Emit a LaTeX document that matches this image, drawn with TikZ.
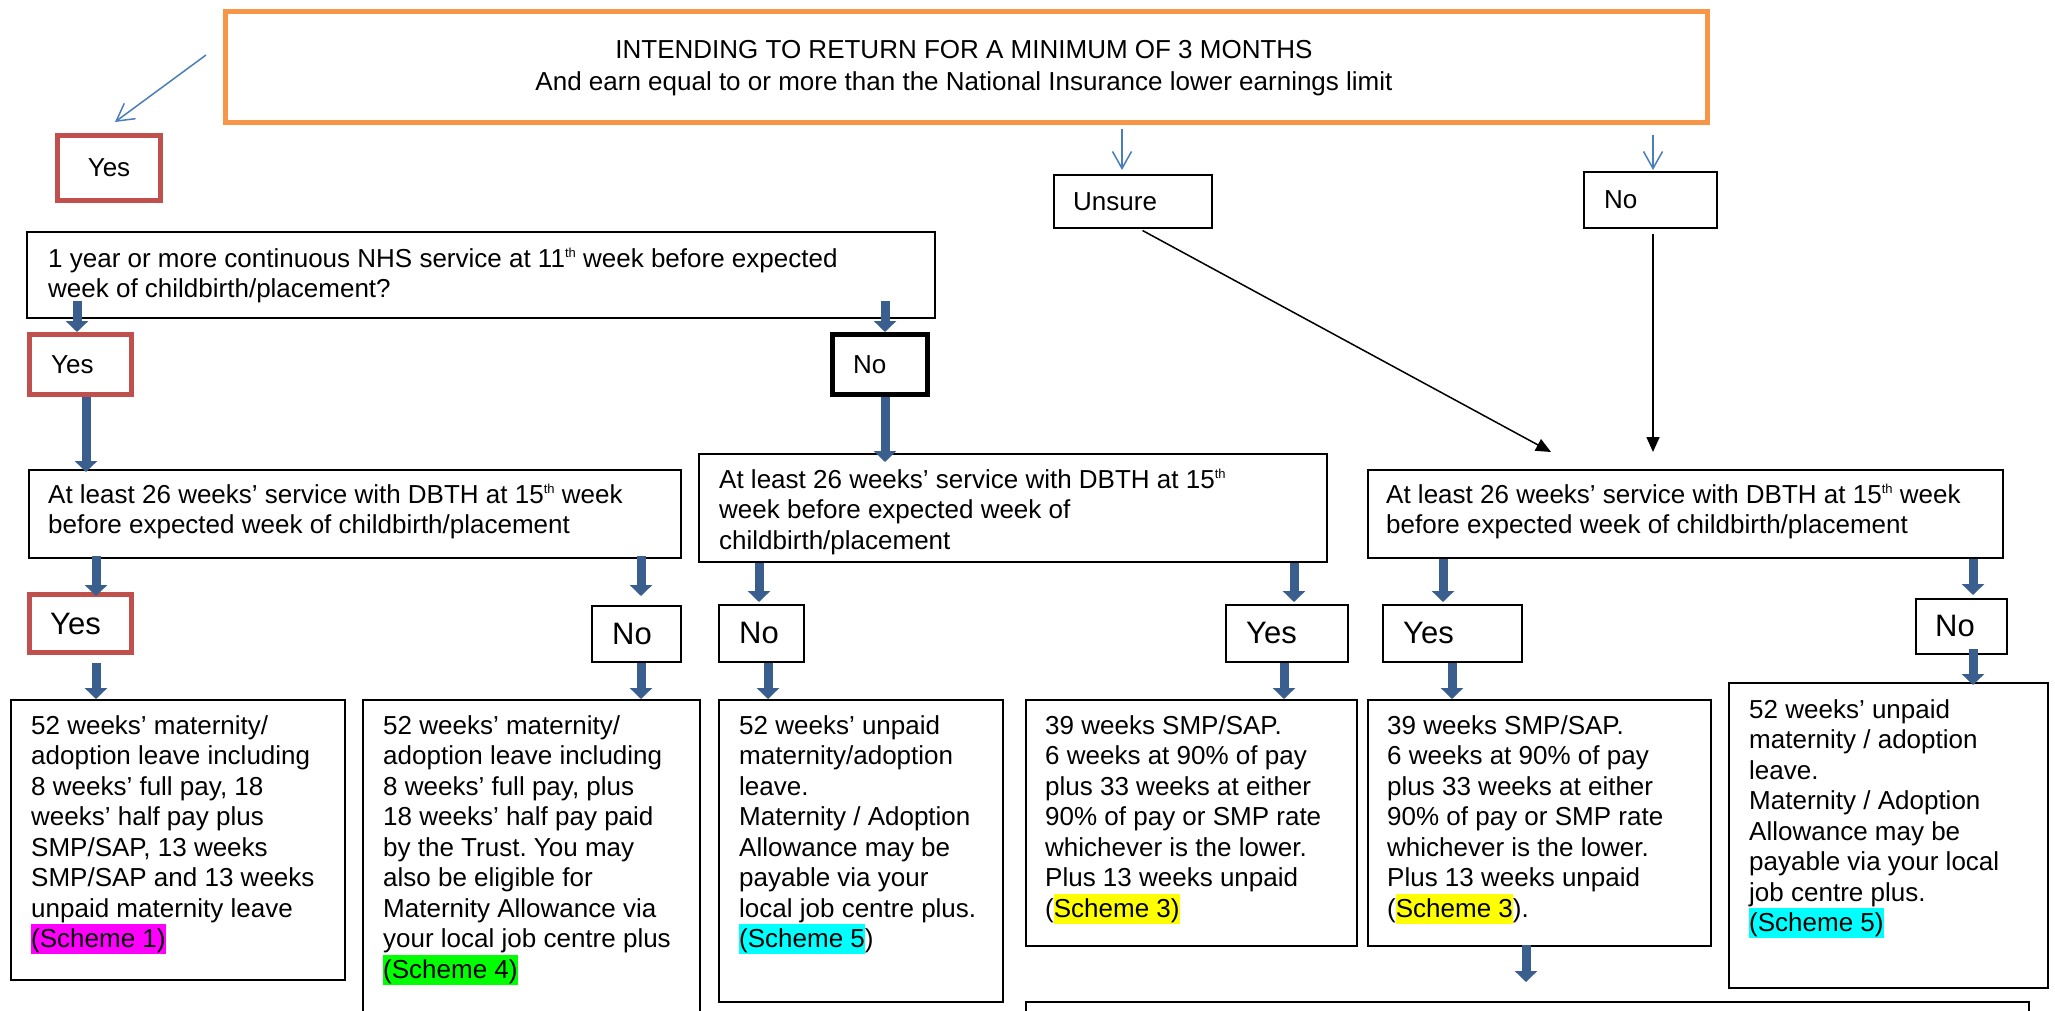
\documentclass[tikz,border=0pt]{standalone}
\usepackage{fontspec}
\setmainfont{Liberation Sans}
\frenchspacing
\usetikzlibrary{arrows.meta,calc}
\definecolor{orng}{HTML}{F79646}
\definecolor{redb}{HTML}{C0504D}
\definecolor{thkblue}{HTML}{3A5F8F}
\definecolor{thinblue}{HTML}{4A7EBB}
\definecolor{hlmag}{HTML}{FF00FF}
\definecolor{hlgreen}{HTML}{00FF00}
\definecolor{hlcyan}{HTML}{00FFFF}
\definecolor{hlyellow}{HTML}{FFFF00}
\newcommand\hlt[2]{{\setlength{\fboxsep}{0pt}\colorbox{#1}{\rule[-6.5pt]{0pt}{30pt}#2}}}
\newcommand\thsup{\raisebox{10pt}{\fontsize{13}{13}\selectfont th}}
\newcommand\tb[1]{\parbox[t]{1000pt}{\raggedright #1}}
\tikzset{
  bx/.style={draw=black, line width=1.6pt, anchor=north west, inner sep=0pt},
  redbx/.style={bx, draw=redb, line width=5pt},
  orngbx/.style={bx, draw=orng, line width=5pt},
  heavybx/.style={bx, line width=5pt},
  txt/.style={inner sep=0pt, anchor=base west, font=\fontsize{26}{30.5}\selectfont},
  lbl/.style={inner sep=0pt, anchor=west, font=\fontsize{26}{30.5}\selectfont},
  biglbl/.style={inner sep=0pt, anchor=west, font=\fontsize{31}{36}\selectfont},
  thk/.style={draw=thkblue, line width=9pt, -{Triangle[length=11pt,width=22pt]}},
  thinarr/.style={draw=thinblue, line width=1.5pt, -{Straight Barb[length=17pt,width=19pt]}},
  blk/.style={draw=black, line width=1.5pt, -{Triangle[length=15pt,width=13pt]}}
}
\begin{document}
\begin{tikzpicture}[x=1pt,y=-1pt]
\useasboundingbox (0,0) rectangle (2055,1010);
\fill[white] (0,0) rectangle (2055,1010);
\clip (0,0) rectangle (2055,1010);

% top box
\node[orngbx, minimum width=1482pt, minimum height=111pt] (top) at (223,9) {};
\node[inner sep=0pt, anchor=base, font=\fontsize{26}{32}\selectfont] (topt) at (964,58)
  {\parbox[t]{1400pt}{\centering INTENDING TO RETURN FOR A MINIMUM OF 3 MONTHS\\And earn equal to or more than the National Insurance lower earnings limit}};

% first answers
\node[redbx, minimum width=103pt, minimum height=65pt] (yes1) at (55,133) {};
\node[lbl, anchor=center] (yes1t) at (yes1.center) {Yes};
\node[bx, minimum width=158pt, minimum height=53pt] (unsure) at (1053,174) {};
\node[lbl] (unsuret) at ($(unsure.west)+(20,0)$) {Unsure};
\node[bx, minimum width=133pt, minimum height=56pt] (no1) at (1583,171) {};
\node[lbl] (no1t) at ($(no1.west)+(21,0)$) {No};

% question 1
\node[bx, minimum width=908pt, minimum height=86pt] (q1) at (26,231) {};
\node[txt] (q1t) at (48,267) {\tb{1 year or more continuous NHS service at 11\thsup{} week before expected\\week of childbirth/placement?}};

\node[redbx, minimum width=102pt, minimum height=60pt] (yes2) at (27,332) {};
\node[lbl] (yes2t) at ($(yes2.west)+(24,0)$) {Yes};
\node[heavybx, minimum width=95pt, minimum height=60pt] (no2) at (830,332) {};
\node[lbl] (no2t) at ($(no2.west)+(23,0)$) {No};

% 26 weeks boxes
\node[bx, minimum width=652pt, minimum height=88pt] (a1) at (28,469) {};
\node[txt] (a1t) at (48,503) {\tb{At least 26 weeks’ service with DBTH at 15\thsup{} week\\before expected week of childbirth/placement}};
\node[bx, minimum width=628pt, minimum height=108pt] (a2) at (698,453) {};
\node[txt] (a2t) at (719,488) {\tb{At least 26 weeks’ service with DBTH at 15\thsup\\week before expected week of\\childbirth/placement}};
\node[bx, minimum width=635pt, minimum height=88pt] (a3) at (1367,469) {};
\node[txt] (a3t) at (1386,503) {\tb{At least 26 weeks’ service with DBTH at 15\thsup{} week\\before expected week of childbirth/placement}};

% yes/no row
\node[redbx, minimum width=102pt, minimum height=58pt] (yes3) at (27,592) {};
\node[biglbl] (yes3t) at ($(yes3.west)+(23,0)$) {Yes};
\node[bx, minimum width=89pt, minimum height=56pt] (no3) at (591,605) {};
\node[biglbl] (no3t) at ($(no3.west)+(21,0)$) {No};
\node[bx, minimum width=85pt, minimum height=57pt] (no4) at (718,604) {};
\node[biglbl] (no4t) at ($(no4.west)+(21,0)$) {No};
\node[bx, minimum width=122pt, minimum height=57pt] (yes4) at (1225,604) {};
\node[biglbl] (yes4t) at ($(yes4.west)+(21,0)$) {Yes};
\node[bx, minimum width=139pt, minimum height=57pt] (yes5) at (1382,604) {};
\node[biglbl] (yes5t) at ($(yes5.west)+(21,0)$) {Yes};
\node[bx, minimum width=91pt, minimum height=55pt] (no5) at (1915,598) {};
\node[biglbl] (no5t) at ($(no5.west)+(20,0)$) {No};

% result boxes
\node[bx, minimum width=334pt, minimum height=280pt] (r1) at (10,699) {};
\node[txt] (r1t) at (31,734) {\tb{52 weeks’ maternity/\\adoption leave including\\8 weeks’ full pay, 18\\weeks’ half pay plus\\SMP/SAP, 13 weeks\\SMP/SAP and 13 weeks\\unpaid maternity leave\\\hlt{hlmag}{(Scheme 1)}}};
\node[bx, minimum width=337pt, minimum height=340pt] (r2) at (362,699) {};
\node[txt] (r2t) at (383,734) {\tb{52 weeks’ maternity/\\adoption leave including\\8 weeks’ full pay, plus\\18 weeks’ half pay paid\\by the Trust. You may\\also be eligible for\\Maternity Allowance via\\your local job centre plus\\\hlt{hlgreen}{(Scheme 4)}}};
\node[bx, minimum width=284pt, minimum height=302pt] (r3) at (718,699) {};
\node[txt] (r3t) at (739,734) {\tb{52 weeks’ unpaid\\maternity/adoption\\leave.\\Maternity / Adoption\\Allowance may be\\payable via your\\local job centre plus.\\\hlt{hlcyan}{(Scheme 5}) }};
\node[bx, minimum width=331pt, minimum height=246pt] (r4) at (1025,699) {};
\node[txt] (r4t) at (1045,734) {\tb{39 weeks SMP/SAP.\\6 weeks at 90\% of pay\\plus 33 weeks at either\\90\% of pay or SMP rate\\whichever is the lower.\\Plus 13 weeks unpaid\\(\hlt{hlyellow}{Scheme 3)}}};
\node[bx, minimum width=343pt, minimum height=246pt] (r5) at (1367,699) {};
\node[txt] (r5t) at (1387,734) {\tb{39 weeks SMP/SAP.\\6 weeks at 90\% of pay\\plus 33 weeks at either\\90\% of pay or SMP rate\\whichever is the lower.\\Plus 13 weeks unpaid\\(\hlt{hlyellow}{Scheme 3}).}};
\node[bx, minimum width=319pt, minimum height=305pt] (r6) at (1728,682) {};
\node[txt] (r6t) at (1749,718) {\tb{52 weeks’ unpaid\\maternity / adoption\\leave.\\Maternity / Adoption\\Allowance may be\\payable via your local\\job centre plus.\\\hlt{hlcyan}{(Scheme 5)}}};
\node[bx, minimum width=1003pt, minimum height=60pt] (bot) at (1025,1001) {};

% thin blue arrows
\coordinate (ys) at (206,55);
\coordinate (ye) at (115,122);
\draw[thinarr] (ys) -- (ye);
\coordinate (us) at (1122,129);
\draw[thinarr, shorten >=4pt] (us) -- (unsure.north -| us);
\coordinate (ns) at (1653,135);
\draw[thinarr, shorten >=1pt] (ns) -- (no1.north -| ns);

% black arrows
\coordinate (de) at (1551,452);
\draw[blk, shorten <=4pt] (unsure.south -| 1139,0) -- (de);
\draw[blk, shorten <=5pt, shorten >=17pt] (no1.south -| 1653,0) -- (a3.north -| 1653,0);

% thick blue arrows
\draw[thk, shorten <=-18pt] (q1.south -| 77,0) -- (yes2.north -| 77,0);
\draw[thk, shorten <=-18pt] (q1.south -| 885,0) -- (no2.north -| 885,0);
\draw[thk, shorten >=-3pt] (yes2.south -| 86,0) -- (a1.north -| 86,0);
\draw[thk, shorten >=-9pt] (no2.south -| 885,0) -- (a2.north -| 885,0);
\draw[thk, shorten <=-3pt, shorten >=-4pt] (a1.south -| 96,0) -- (yes3.north -| 96,0);
\draw[thk, shorten <=-3pt, shorten >=9pt] (a1.south -| 641,0) -- (no3.north -| 641,0);
\draw[thk, shorten >=2pt] (a2.south -| 759,0) -- (no4.north -| 759,0);
\draw[thk, shorten >=2pt] (a2.south -| 1294,0) -- (yes4.north -| 1294,0);
\draw[thk, shorten >=2pt] (a3.south -| 1443,0) -- (yes5.north -| 1443,0);
\draw[thk, shorten >=3pt] (a3.south -| 1973,0) -- (no5.north -| 1973,0);
\draw[thk, shorten <=8pt] (yes3.south -| 96,0) -- (r1.north -| 96,0);
\draw[thk] (no3.south -| 641,0) -- (r2.north -| 641,0);
\draw[thk] (no4.south -| 768,0) -- (r3.north -| 768,0);
\draw[thk] (yes4.south -| 1284,0) -- (r4.north -| 1284,0);
\draw[thk] (yes5.south -| 1452,0) -- (r5.north -| 1452,0);
\draw[thk, shorten <=-6pt, shorten >=-3pt] (no5.south -| 1973,0) -- (r6.north -| 1973,0);
\draw[thk, shorten <=-2pt, shorten >=19pt] (r5.south -| 1526,0) -- (bot.north -| 1526,0);
\end{tikzpicture}
\end{document}
